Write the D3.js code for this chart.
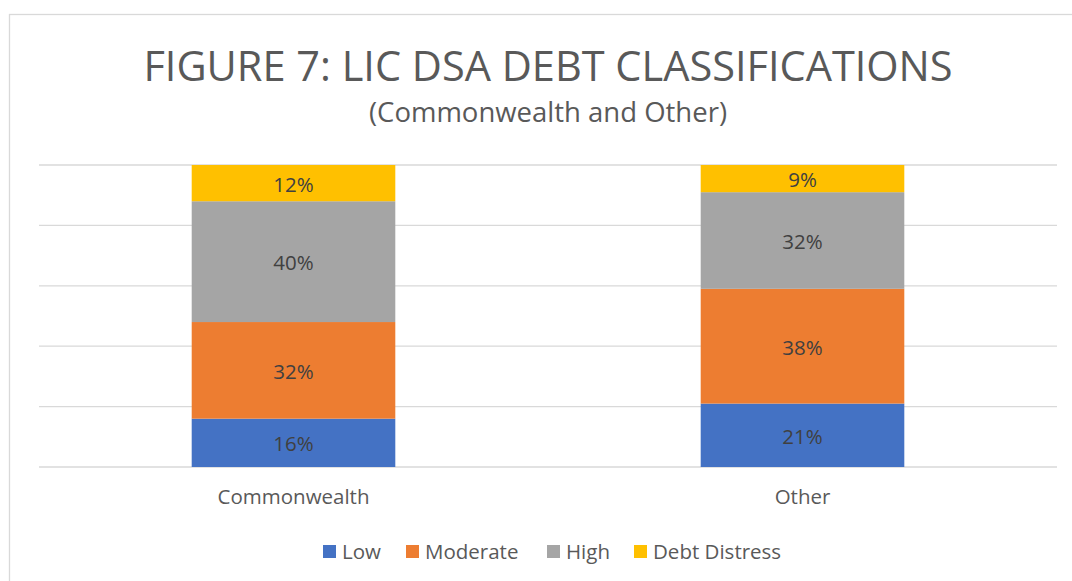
<!DOCTYPE html>
<html>
<head>
<meta charset="utf-8">
<script src="https://cdn.jsdelivr.net/npm/d3@7"></script>
<style>
  body { margin: 0; background: #fff; }
  text { font-family: "Open Sans", sans-serif; }
</style>
</head>
<body>
<div id="chart"></div>
<script>
(function() {
  var categories = ['Commonwealth', 'Other']
  var seriesNames = ['Low', 'Moderate', 'High', 'Debt Distress']
  // values in percent, one array per series
  var lowValues = [16, 21]
  var moderateValues = [32, 38]
  var highValues = [40, 32]
  var distressValues = [12, 9]
  var colors = ['#4472c4', '#ed7d31', '#a5a5a5', '#ffc000']
  var gridTicks = [0, 20, 40, 60, 80, 100]

  var W = 1072, H = 581
  var plot = { left: 39, right: 1057, top: 165, bottom: 467 }

  var svg = d3.select('#chart')
    .append('svg')
    .attr('width', W)
    .attr('height', H)

  // chart border (runs off the right and bottom edge)
  svg.append('rect')
    .attr('x', 9.5)
    .attr('y', 14.5)
    .attr('width', W + 20)
    .attr('height', H + 20)
    .attr('fill', '#fff')
    .attr('stroke', '#d9d9d9')
    .attr('stroke-width', 1.3)

  svg.append('text')
    .text('FIGURE 7: LIC DSA DEBT CLASSIFICATIONS')
    .attr('x', 548)
    .attr('y', 81)
    .attr('text-anchor', 'middle')
    .attr('font-size', 41.5)
    .attr('fill', '#595959')

  svg.append('text')
    .text('(Commonwealth and Other)')
    .attr('x', 548)
    .attr('y', 122)
    .attr('text-anchor', 'middle')
    .attr('font-size', 27.5)
    .attr('fill', '#595959')

  var xScale = d3.scaleBand()
    .domain(categories)
    .range([plot.left, plot.right])
    .paddingInner(0.6)
    .paddingOuter(0.3)

  var yScale = d3.scaleLinear().domain([0, 100]).range([plot.bottom, plot.top])

  // gridlines
  svg.append('g')
    .selectAll('line')
    .data(gridTicks)
    .enter().append('line')
    .attr('x1', plot.left)
    .attr('x2', plot.right)
    .attr('y1', d => yScale(d))
    .attr('y2', d => yScale(d))
    .attr('stroke', '#d9d9d9')
    .attr('stroke-width', 1.3)

  var rows = categories.map((c, i) => ({
    category: c,
    'Low': lowValues[i],
    'Moderate': moderateValues[i],
    'High': highValues[i],
    'Debt Distress': distressValues[i]
  }))

  var stacked = d3.stack().keys(seriesNames)(rows)

  var layers = svg.append('g')
    .selectAll('g')
    .data(stacked)
    .enter().append('g')
    .attr('fill', (d, i) => colors[i])

  layers.selectAll('rect')
    .data(d => d)
    .enter().append('rect')
    .attr('x', d => xScale(d.data.category))
    .attr('width', xScale.bandwidth())
    .attr('y', d => yScale(d[1]))
    .attr('height', d => yScale(d[0]) - yScale(d[1]))

  layers.selectAll('text')
    .data(d => d.map(p => ({ p: p, key: d.key })))
    .enter().append('text')
    .text(d => d.p.data[d.key] + '%')
    .attr('x', d => xScale(d.p.data.category) + xScale.bandwidth() / 2)
    .attr('y', d => (yScale(d.p[0]) + yScale(d.p[1])) / 2)
    .attr('dy', '0.42em')
    .attr('text-anchor', 'middle')
    .attr('font-size', 20.5)
    .attr('fill', '#404040')

  // category axis labels
  var xAxis = d3.axisBottom(xScale).tickSize(0).tickPadding(22)
  var axisG = svg.append('g')
    .attr('transform', `translate(0,${plot.bottom})`)
    .call(xAxis)
  axisG.select('.domain').remove()
  axisG.selectAll('text')
    .attr('font-size', 20.5)
    .attr('fill', '#595959')
    .attr('font-family', '"Open Sans", sans-serif')

  // legend
  var legendX = [323, 406, 547, 634]
  var legend = svg.append('g')
    .selectAll('g')
    .data(seriesNames)
    .enter().append('g')
    .attr('transform', (d, i) => `translate(${legendX[i]},545)`)

  legend.append('rect')
    .attr('width', 13)
    .attr('height', 13)
    .attr('fill', (d, i) => colors[i])

  legend.append('text')
    .text(d => d)
    .attr('x', 19)
    .attr('y', 6.5)
    .attr('dy', '0.35em')
    .attr('font-size', 20.5)
    .attr('fill', '#595959')
})()
</script>
</body>
</html>
